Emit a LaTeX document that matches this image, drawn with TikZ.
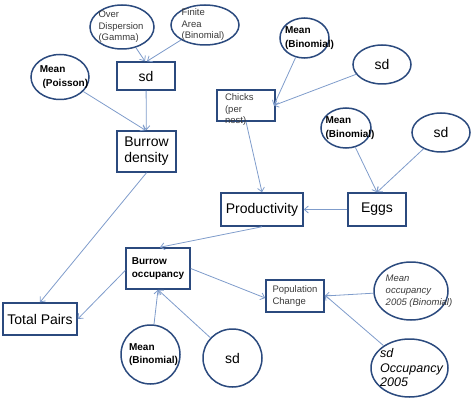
\documentclass[tikz,border=0pt]{standalone}
\usepackage{fontspec}
\setmainfont{Liberation Sans}
\usetikzlibrary{arrows.meta,shapes.geometric}
\definecolor{navy}{HTML}{2B4A7E}
\definecolor{linkblue}{HTML}{7F9CCB}
\definecolor{txtgray}{HTML}{3A3A3A}

\begin{document}
\begin{tikzpicture}[x=1pt,y=-1pt,
  box/.style={draw=navy,line width=1.5pt,rectangle,inner sep=0pt},
  ell/.style={draw=navy,line width=1.5pt,ellipse,inner sep=0pt},
  arr/.style={draw=linkblue,line width=0.8pt,-{Straight Barb[length=4pt,width=7pt]}},
  big/.style={font=\fontsize{14}{16}\selectfont},
  small/.style={font=\fontsize{9.5}{11.5}\selectfont,text=txtgray,align=left},
  bsmall/.style={font=\fontsize{10}{13.5}\selectfont\bfseries,align=left}]
\useasboundingbox (0,0) rectangle (474,401);
% distributions and boxes, top left
\node[ell,minimum width=64,minimum height=44,label={[small,xshift=-1]center:Over\\Dispersion\\(Gamma)}] (od) at (122,27) {};
\node[ell,minimum width=68,minimum height=40,label={[small,xshift=-2]center:Finite\\Area\\(Binomial)}] (fa) at (205,25) {};
\node[box,big,minimum width=58,minimum height=28] (sdb) at (146,76) {sd};
\node[ell,minimum width=58,minimum height=45,label={[bsmall,xshift=4]center:Mean\\\ (Poisson)}] (mp) at (60,77) {};
\node[box,big,align=center,minimum width=59,minimum height=41] (bd) at (146.5,151.5) {Burrow\\density};
% chicks and eggs
\node[ell,minimum width=49,minimum height=40,label={[bsmall,xshift=5]center:Mean\\(Binomial)}] (mb1) at (304.5,38) {};
\node[ell,big,minimum width=58,minimum height=39] (sd1) at (382,64.5) {sd};
\node[box,minimum width=58,minimum height=31,label={[small,anchor=north west,yshift=-1]north west:\ \ Chicks\\\ \ (per\\\ \ nest)}] (chk) at (246,105.5) {};
\node[ell,minimum width=50,minimum height=40,label={[bsmall,xshift=4]center:Mean\\(Binomial)}] (mb2) at (346,128) {};
\node[ell,big,minimum width=58,minimum height=39] (sd2) at (441,132.5) {sd};
\node[box,big,minimum width=82,minimum height=33] (prod) at (262,209.5) {Productivity};
\node[box,big,minimum width=58,minimum height=33] (egg) at (377,209.5) {Eggs};
% occupancy part
\node[box,bsmall,minimum width=64,minimum height=41] (bo) at (158,268.5) {Burrow\\occupancy};
\node[box,big,minimum width=74,minimum height=32] (tp) at (40,319) {Total Pairs};
\node[box,small,minimum width=58,minimum height=32] (pop) at (295,296) {Population\\Change};
\node[ell,minimum width=74,minimum height=58,label={[small,font=\fontsize{9.5}{12}\selectfont\itshape,xshift=8]center:Mean\\occupancy\\2005 (Binomial)}] (mo) at (411,291) {};
\node[ell,minimum width=77,minimum height=58,label={[font=\fontsize{12.5}{14.5}\selectfont\itshape,align=left,xshift=2]center:sd\\Occupancy\\2005}] (so) at (409.5,368) {};
\node[ell,minimum width=59,minimum height=59,label={[bsmall,xshift=3]center:Mean\\(Binomial)}] (mb3) at (150.5,354.5) {};
\node[ell,big,minimum width=59,minimum height=58] (sd3) at (232.5,358) {sd};
% links
\draw[arr] (od) -- ([xshift=-1]sdb.north);
\draw[arr] (fa) -- ([xshift=1]sdb.north);
\draw[arr] (sdb) -- (bd);
\draw[arr] (mp) -- ([xshift=-1]bd.north);
\draw[arr] (bd.south) -- (tp.north);
\draw[arr] (mb1) -- ([xshift=-2]chk.east);
\draw[arr] (sd1) -- ([xshift=-2]chk.east);
\draw[arr] (chk.south) -- (prod.north);
\draw[arr] (mb2) -- (egg.north);
\draw[arr] (sd2) -- (egg.north);
\draw[arr] (egg) -- (prod);
\draw[arr] (prod.south) -- ([xshift=2]bo.north);
\draw[arr] ([yshift=-2]bo.west) -- (tp.east);
\draw[arr] (bo.east) -- ([yshift=-2]pop.west);
\draw[arr] (mb3) -- (bo.south);
\draw[arr] (sd3) -- (bo.south);
\draw[arr] (mo) -- (pop.east);
\draw[arr] (so) -- ([yshift=1]pop.east);
\end{tikzpicture}
\end{document}
